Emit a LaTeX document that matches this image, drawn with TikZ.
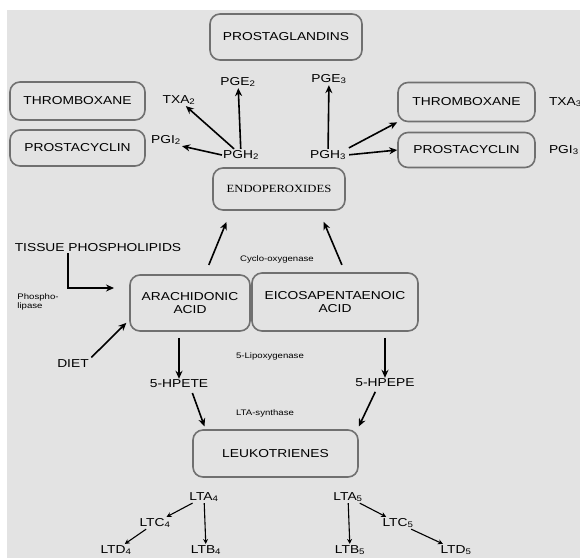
\documentclass[tikz,border=0pt]{standalone}
\usepackage{fontspec}
\setmainfont{Liberation Sans}[FakeStretch=1.2]
\newfontfamily\endofont{Liberation Serif}[FakeStretch=1.15]
\usetikzlibrary{positioning,arrows.meta}
\definecolor{bggray}{HTML}{E3E3E3}
\definecolor{boxgray}{HTML}{707070}

\begin{document}
\begin{tikzpicture}[x=1pt, y=-1pt,
  font=\fontsize{11.5}{13}\selectfont,
  box/.style={draw=boxgray, line width=1.6pt, rounded corners=10pt, align=center, inner sep=2pt},
  lab/.style={inner sep=1pt},
  tinylab/.style={inner sep=1pt, font=\fontsize{8}{9.5}\selectfont, align=left},
  arr/.style={-{Stealth[length=8pt,width=7pt]}, line width=1.6pt},
  sarr/.style={-{Stealth[length=5pt,width=5pt]}, line width=1.1pt},
  ]
  % background
  \fill[white] (0,0) rectangle (580,558);
  \fill[bggray] (7,10) rectangle (580,558);
  \useasboundingbox (0,0) rectangle (580,558);

  % Prostaglandin boxes
  \node[box, minimum width=152pt, minimum height=46pt] (prost) at (286,37) {PROSTAGLANDINS};
  \node[box, minimum width=135pt, minimum height=38pt] (thrL) at (77.5,101) {THROMBOXANE};
  \node[box, minimum width=135pt, minimum height=36pt] (pcyL) at (77.5,148) {PROSTACYCLIN};
  \node[box, minimum width=137pt, minimum height=39pt] (thrR) at (466.5,102) {THROMBOXANE};
  \node[box, minimum width=137pt, minimum height=35pt] (pcyR) at (466.5,150) {PROSTACYCLIN};
  \node[box, minimum width=132pt, minimum height=42pt, font=\endofont\fontsize{11}{13}\selectfont] (endo) at (279,189) {ENDOPEROXIDES};

  % Series labels
  \node[lab] (pgeL) at (238,82) {PGE\textsubscript{2}};
  \node[lab] (pgeR) at (329,79) {PGE\textsubscript{3}};
  \node[lab] (txaL) at (179,100) {TXA\textsubscript{2}};
  \node[lab] (pgiL) at (166,140) {PGI\textsubscript{2}};
  \node[lab] (pghL) at (241,155) {PGH\textsubscript{2}};
  \node[lab] (pghR) at (328,155) {PGH\textsubscript{3}};
  \node[lab, right=12pt of thrR] (txaR) {TXA\textsubscript{3}};
  \node[lab, right=12pt of pcyR] (pgiR) {PGI\textsubscript{3}};

  \draw[arr] (pghL) -- (pgeL);
  \draw[arr] (pghL) -- (txaL);
  \draw[arr] (pghL.west) -- (pgiL.south east);
  \draw[arr] (pghR) -- (pgeR);
  \draw[arr, shorten <=2pt] (pghR.north east) -- (thrR.south west);
  \draw[arr, shorten <=2pt] (pghR.east) -- (pcyR.west);

  % Fatty acids
  \node[box, minimum width=120pt, minimum height=56pt] (arach) at (190,303) {ARACHIDONIC\\ACID};
  \node[box, minimum width=166pt, minimum height=58pt] (eico) at (335,302) {EICOSAPENTAENOIC\\ACID};
  \node[lab] (tissue) at (98,248) {TISSUE PHOSPHOLIPIDS};
  \node[tinylab] (plase) at (38,302) {Phospho-\\lipase};
  \node[lab] (diet) at (73,364) {DIET};
  \node[tinylab] (cox) at (277,259) {Cyclo-oxygenase};
  \coordinate (plend) at (114,288);

  \draw[arr] ([xshift=-30pt]tissue.south) |- (plend);
  \draw[arr, shorten <=2pt, shorten >=4pt] (diet.north east) -- ([yshift=-17pt]arach.west);
  \draw[arr, shorten <=10pt, shorten >=12pt] ([xshift=15pt]arach.north) -- ([xshift=-48pt]endo.south);
  \draw[arr, shorten <=8pt, shorten >=12pt] ([xshift=10pt]eico.north) -- ([xshift=40pt]endo.south);

  % Lipoxygenase branch
  \node[lab] (hpete) at (179,384) {5-HPETE};
  \node[lab] (hpepe) at (385,383) {5-HPEPE};
  \node[tinylab] (lox) at (270,356) {5-Lipoxygenase};
  \node[tinylab] (ltas) at (265,413) {LTA-synthase};
  \node[box, minimum width=165pt, minimum height=47pt] (leuko) at (275.5,453.5) {LEUKOTRIENES};

  \draw[arr, shorten <=6pt] ([xshift=-11pt]arach.south) -- (hpete.north);
  \draw[arr, shorten <=6pt] ([xshift=50pt]eico.south) -- (hpepe.north);
  \draw[arr, shorten <=4pt, shorten >=3pt] ([xshift=12pt]hpete.south) -- ([xshift=-70pt]leuko.north);
  \draw[arr, shorten <=4pt, shorten >=3pt] ([xshift=-8pt]hpepe.south) -- ([xshift=82pt]leuko.north);

  % Leukotriene series
  \node[lab] (ltaL) at (204,497) {LTA\textsubscript{4}};
  \node[lab] (ltcL) at (155,523) {LTC\textsubscript{4}};
  \node[lab] (ltdL) at (116,550) {LTD\textsubscript{4}};
  \node[lab] (ltbL) at (206,550) {LTB\textsubscript{4}};
  \node[lab] (ltaR) at (348,497) {LTA\textsubscript{5}};
  \node[lab] (ltcR) at (398,523) {LTC\textsubscript{5}};
  \node[lab] (ltdR) at (456,550) {LTD\textsubscript{5}};
  \node[lab] (ltbR) at (350,550) {LTB\textsubscript{5}};

  \draw[sarr] (ltaL) -- (ltcL);
  \draw[sarr] (ltcL) -- (ltdL);
  \draw[sarr] (ltaL) -- (ltbL);
  \draw[sarr] (ltaR) -- (ltcR);
  \draw[sarr] (ltcR) -- (ltdR);
  \draw[sarr] (ltaR) -- (ltbR);
\end{tikzpicture}
\end{document}
